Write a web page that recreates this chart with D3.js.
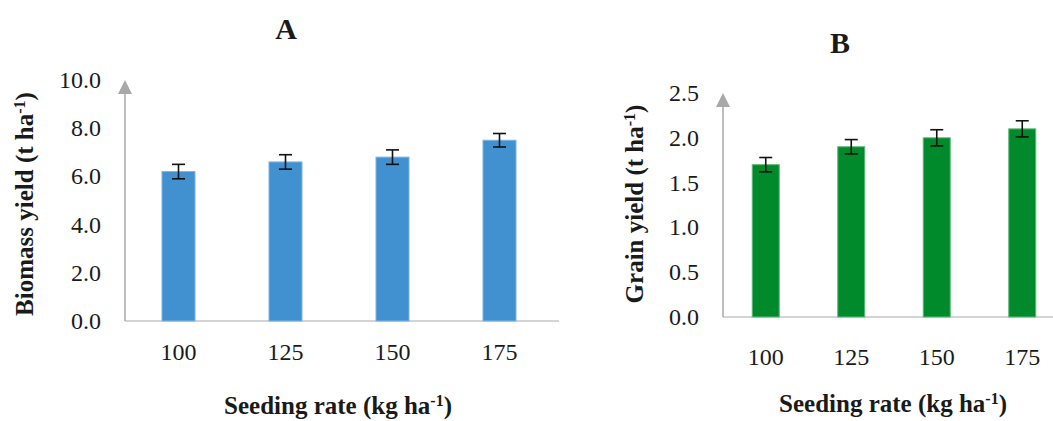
<!DOCTYPE html>
<html><head><meta charset="utf-8">
<script src="https://cdn.jsdelivr.net/npm/d3@7"></script>
<style>body{margin:0;background:#fff}svg{display:block}text{font-family:"Liberation Serif","Times New Roman",serif;fill:#1a1a1a}</style>
</head><body>
<svg id="c" width="1053" height="421"></svg>
<script>
const categories = ["100", "125", "150", "175"];
const biomass = [6.2, 6.6, 6.8, 7.5];
const biomassErr = [0.3, 0.3, 0.3, 0.28];
const grain = [1.7, 1.9, 2.0, 2.1];
const grainErr = [0.08, 0.08, 0.09, 0.09];
const biomassTicks = [0, 2, 4, 6, 8, 10];
const grainTicks = [0, 0.5, 1.0, 1.5, 2.0, 2.5];

const svg = d3.select("#c");

function panel(cfg) {
  const g = svg.append("g");
  const x = d3.scalePoint().domain(categories).range([cfg.x0, cfg.x1]).padding(0.5);
  const y = d3.scaleLinear().domain(cfg.domain).range([cfg.yb, cfg.yt]);

  g.append("line").attr("x1", cfg.x0).attr("x2", cfg.xEnd)
    .attr("y1", y(0)).attr("y2", y(0)).attr("stroke", "#d4d4d4").attr("stroke-width", 2);

  g.append("line").attr("x1", cfg.x0).attr("x2", cfg.x0)
    .attr("y1", y(0)).attr("y2", y(cfg.domain[1]) + 10).attr("stroke", "#a8a8a8").attr("stroke-width", 1.5);
  const ty = y(cfg.domain[1]);
  g.append("path").attr("d", `M${cfg.x0},${ty} L${cfg.x0 - 7},${ty + 14} L${cfg.x0 + 7},${ty + 14} Z`).attr("fill", "#a8a8a8");

  g.selectAll(".yt").data(cfg.ticks).enter().append("text")
    .attr("x", cfg.labelX).attr("y", d => y(d)).attr("text-anchor", "end")
    .attr("dominant-baseline", "central").attr("font-size", 24)
    .text(d => d3.format(".1f")(d));

  g.selectAll(".bar").data(cfg.values).enter().append("rect")
    .attr("x", (d, i) => x(categories[i]) - cfg.bw / 2).attr("width", cfg.bw)
    .attr("y", d => y(d)).attr("height", d => y(0) - y(d))
    .attr("fill", cfg.fill).attr("stroke", cfg.stroke).attr("stroke-width", 1);

  cfg.values.forEach((v, i) => {
    const cx = x(categories[i]), e = cfg.err[i];
    const eg = g.append("g").attr("stroke", "#111").attr("stroke-width", 1.6);
    eg.append("line").attr("x1", cx).attr("x2", cx).attr("y1", y(v + e)).attr("y2", y(v - e));
    eg.append("line").attr("x1", cx - 6.5).attr("x2", cx + 6.5).attr("y1", y(v + e)).attr("y2", y(v + e));
    eg.append("line").attr("x1", cx - 6.5).attr("x2", cx + 6.5).attr("y1", y(v - e)).attr("y2", y(v - e));
  });

  g.selectAll(".xt").data(categories).enter().append("text")
    .attr("x", d => x(d)).attr("y", cfg.xLabelY).attr("text-anchor", "middle")
    .attr("dominant-baseline", "central").attr("font-size", 24).text(d => d);

  const xt = g.append("text").attr("x", cfg.xTitleX).attr("y", cfg.xTitleY)
    .attr("text-anchor", "middle").attr("font-size", 25).attr("font-weight", "bold");
  xt.append("tspan").text("Seeding rate (kg ha");
  xt.append("tspan").attr("baseline-shift", "super").attr("font-size", 16).text("-1");
  xt.append("tspan").text(")");

  const yt = g.append("text").attr("transform", `translate(${cfg.yTitleX},${cfg.yTitleY}) rotate(-90)`)
    .attr("text-anchor", "middle").attr("font-size", 25).attr("font-weight", "bold");
  yt.append("tspan").text(cfg.yTitle + " (t ha");
  yt.append("tspan").attr("baseline-shift", "super").attr("font-size", 16).text("-1");
  yt.append("tspan").text(")");

  g.append("text").attr("x", cfg.titleX).attr("y", cfg.titleY).attr("text-anchor", "middle")
    .attr("dominant-baseline", "central").attr("font-size", 30).attr("font-weight", "bold").text(cfg.title);
}

panel({
  x0: 125, x1: 553, xEnd: 559, domain: [0, 10], yb: 321, yt: 80,
  ticks: biomassTicks, values: biomass, err: biomassErr, bw: 33,
  fill: "#4190cf", stroke: "#7fb3e0", labelX: 101, xLabelY: 352,
  xTitleX: 338, xTitleY: 414, yTitleX: 33, yTitleY: 204, yTitle: "Biomass yield",
  titleX: 286, titleY: 28, title: "A"
});
panel({
  x0: 723, x1: 1065, xEnd: 1053, domain: [0, 2.5], yb: 317, yt: 93,
  ticks: grainTicks, values: grain, err: grainErr, bw: 27,
  fill: "#008a2c", stroke: "#5fb878", labelX: 699, xLabelY: 357,
  xTitleX: 893, xTitleY: 412, yTitleX: 643, yTitleY: 204, yTitle: "Grain yield",
  titleX: 840, titleY: 42, title: "B"
});
</script>
</body></html>
